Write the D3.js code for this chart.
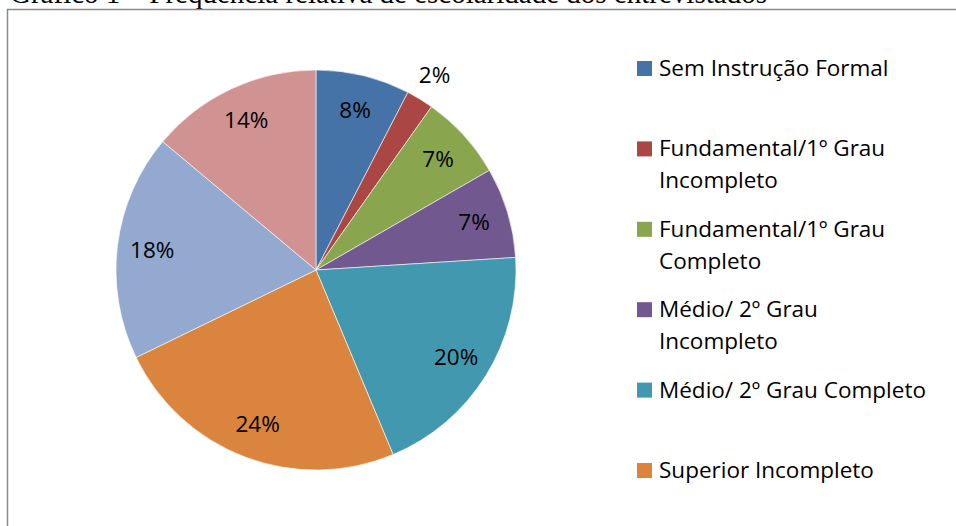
<!DOCTYPE html>
<html lang="pt">
<head>
	<meta charset="utf-8">
	<title>Gráfico 1</title>
	<script src="https://d3js.org/d3.v7.min.js"></script>
	<style type="text/css">
		html, body { margin: 0; padding: 0; background: #fff; overflow: hidden; }
		svg { display: block; }
		.title { font-family: "Liberation Serif", "Times New Roman", serif; }
		.sliceLabel, .legendLabel { font-family: "Open Sans", "Noto Sans", sans-serif; }
	</style>
</head>
<body>
	<svg id="chart" width="956" height="526"></svg>

	<script type="text/javascript">

	// Data (percent of respondents)
	var categories = [
		"Sem Instrução Formal",
		"Fundamental/1º Grau Incompleto",
		"Fundamental/1º Grau Completo",
		"Médio/ 2º Grau Incompleto",
		"Médio/ 2º Grau Completo",
		"Superior Incompleto",
		"Superior Completo",
		"Pós-Graduação"
	]
	var values = [7.6, 2.2, 6.9, 7.3, 19.7, 24.1, 18.3, 13.9]

	// legend lines (wrapped like the original)
	var legendLines = [
		["Sem Instrução Formal"],
		["Fundamental/1º Grau", "Incompleto"],
		["Fundamental/1º Grau", "Completo"],
		["Médio/ 2º Grau", "Incompleto"],
		["Médio/ 2º Grau Completo"],
		["Superior Incompleto"],
		["Superior Completo"],
		["Pós-Graduação"]
	]

	var colors = ["#4572a7", "#aa4643", "#89a54e", "#71588f", "#4198af", "#db843d", "#93a9cf", "#d19392"]

	var titleText = "Gráfico 1 – Frequência relativa de escolaridade dos entrevistados"

	// layout
	var cx = 316, cy = 270, radius = 200
	var labelR = 165, outsideR = 228
	var legendX = 637, legendTop = 61, legendStep = 80.4, lineH = 32

	var svg = d3.select("#chart")

	// title, cut at the top like the scan
	svg.append("text")
		.attr("class", "title")
		.attr("x", 10)
		.attr("y", 3)
		.attr("font-size", 29)
		.attr("fill", "#000")
		.text(titleText)

	// chart border
	svg.append("rect")
		.attr("x", 7.5)
		.attr("y", 9.5)
		.attr("width", 1100)
		.attr("height", 700)
		.attr("fill", "none")
		.attr("stroke", "#8a8a8a")
		.attr("stroke-width", 1.5)

	var total = d3.sum(values)
	var pct = d3.format(".0%")
	var color = d3.scaleOrdinal().domain(categories).range(colors)

	var pie = d3.pie().sort(null).value(d => d.value)
	var data = categories.map((c, i) => ({name: c, value: values[i]}))
	var arcs = pie(data)

	var arc = d3.arc().innerRadius(0).outerRadius(radius)
	var labelArc = d3.arc().innerRadius(labelR).outerRadius(labelR)
	var outArc = d3.arc().innerRadius(outsideR).outerRadius(outsideR)

	var g = svg.append("g")
		.attr("transform", "translate(" + cx + "," + cy + ")")

	g.selectAll("path")
		.data(arcs)
		.join("path")
		.attr("d", arc)
		.attr("fill", d => color(d.data.name))
		.attr("stroke", "#fff")
		.attr("stroke-width", 0.6)

	g.selectAll("text")
		.data(arcs)
		.join("text")
		.attr("class", "sliceLabel")
		.attr("transform", d => "translate(" + (d.data.value < 3 ? outArc : labelArc).centroid(d) + ")")
		.attr("text-anchor", "middle")
		.attr("dy", "0.35em")
		.attr("font-size", 22.5)
		.attr("fill", "#000")
		.text(d => pct(d.data.value / total))

	// legend
	var legend = svg.append("g")
		.selectAll("g")
		.data(categories)
		.join("g")
		.attr("transform", (d, i) => "translate(" + legendX + "," + (legendTop + i * legendStep) + ")")

	legend.append("rect")
		.attr("width", 15)
		.attr("height", 15)
		.attr("fill", d => color(d))

	legend.append("text")
		.attr("class", "legendLabel")
		.attr("x", 22)
		.attr("y", 15)
		.attr("font-size", 22.5)
		.attr("fill", "#000")
		.selectAll("tspan")
		.data((d, i) => legendLines[i])
		.join("tspan")
		.attr("x", 22)
		.attr("dy", (d, j) => j === 0 ? 0 : lineH)
		.text(d => d)

	</script>
</body>
</html>
